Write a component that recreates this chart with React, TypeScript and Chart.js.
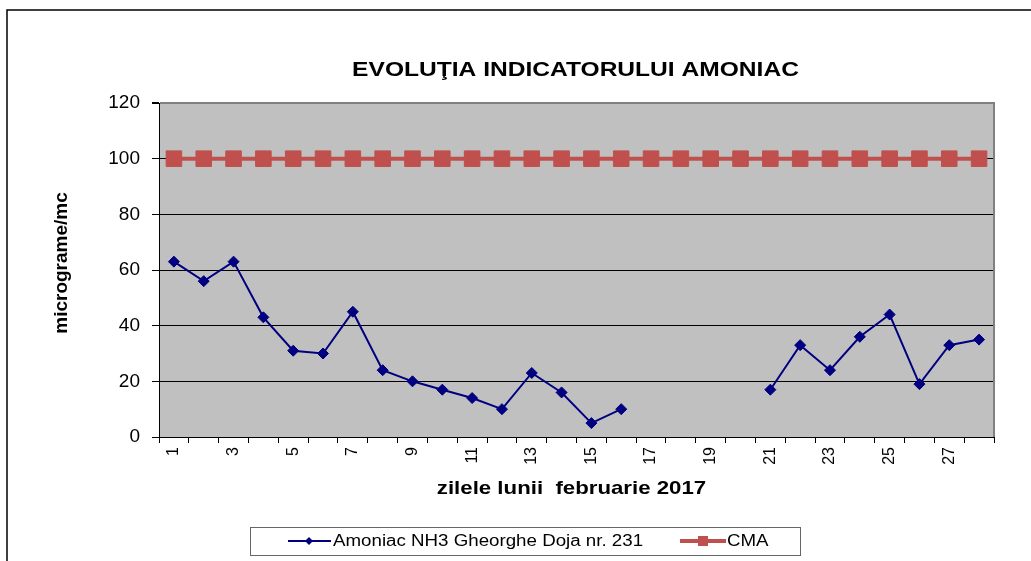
import React, { useEffect, useRef } from "react";
import { Chart, registerables } from "chart.js";

Chart.register(...registerables);

const days: string[] = Array.from({ length: 28 }, (_, i) => String(i + 1));
const amoniac: (number | null)[] = [
  63, 56, 63, 43, 31, 30, 45, 24, 20, 17, 14, 10, 23, 16, 5, 10,
  null, null, null, null,
  17, 33, 24, 36, 44, 19, 33, 35,
];
const cma: number[] = [
  100, 100, 100, 100, 100, 100, 100, 100, 100, 100, 100, 100, 100, 100,
  100, 100, 100, 100, 100, 100, 100, 100, 100, 100, 100, 100, 100, 100,
];
const titleText = "EVOLUŢIA INDICATORULUI AMONIAC";
const xTitle = "zilele lunii  februarie 2017";
const yTitle = "micrograme/mc";
const seriesNames = ["Amoniac NH3 Gheorghe Doja nr. 231", "CMA"];

const BLUE = "#000080";
const RED = "#C0504D";
const FONT = "'Liberation Sans', Arial, sans-serif";
const SX = 1.17;

function stretchText(ctx: any, text: string, x: number, y: number, align: "left" | "center") {
  ctx.save();
  ctx.translate(x, y);
  ctx.scale(SX, 1);
  ctx.textAlign = align;
  ctx.fillText(text, 0, 0);
  ctx.restore();
}

const decor = {
  id: "decor",
  beforeDraw(chart: any) {
    const { ctx, chartArea: a } = chart;
    ctx.save();
    ctx.fillStyle = "#fff";
    ctx.fillRect(0, 0, chart.width, chart.height);
    ctx.fillStyle = "#C0C0C0";
    ctx.fillRect(a.left, a.top, a.right - a.left, a.bottom - a.top);
    ctx.restore();
  },
  beforeDatasetsDraw(chart: any) {
    const { ctx, chartArea: a } = chart;
    ctx.save();
    ctx.strokeStyle = "#808080";
    ctx.lineWidth = 2;
    ctx.beginPath();
    ctx.moveTo(a.right, a.top - 1);
    ctx.lineTo(a.right, a.bottom);
    ctx.stroke();
    ctx.restore();
  },
  afterDraw(chart: any) {
    const { ctx, chartArea: a } = chart;
    ctx.save();
    // outer frame
    ctx.strokeStyle = "#000";
    ctx.lineWidth = 1.5;
    ctx.beginPath();
    ctx.moveTo(chart.width, 10);
    ctx.lineTo(7, 10);
    ctx.lineTo(7, chart.height);
    ctx.stroke();

    const cx = (a.left + a.right) / 2;
    ctx.fillStyle = "#000";
    ctx.textBaseline = "middle";
    ctx.font = `bold 21px ${FONT}`;
    stretchText(ctx, titleText, cx - 1, 70, "center");

    ctx.font = `bold 19px ${FONT}`;
    stretchText(ctx, xTitle, cx - 5, 489, "center");

    ctx.save();
    ctx.translate(62, 263);
    ctx.rotate(-Math.PI / 2);
    ctx.textAlign = "center";
    ctx.fillText(yTitle, 0, 0);
    ctx.restore();

    // legend
    const lx = 250, ly = 527, lw = 550, lh = 28;
    ctx.fillStyle = "#fff";
    ctx.fillRect(lx, ly, lw, lh);
    ctx.strokeStyle = "#666";
    ctx.lineWidth = 1;
    ctx.strokeRect(lx + 0.5, ly + 0.5, lw, lh);
    const my = ly + lh / 2;
    // blue entry
    ctx.strokeStyle = BLUE;
    ctx.lineWidth = 2;
    ctx.beginPath();
    ctx.moveTo(288, my);
    ctx.lineTo(331, my);
    ctx.stroke();
    ctx.fillStyle = BLUE;
    ctx.beginPath();
    ctx.moveTo(309, my - 4);
    ctx.lineTo(313, my);
    ctx.lineTo(309, my + 4);
    ctx.lineTo(305, my);
    ctx.closePath();
    ctx.fill();
    ctx.fillStyle = "#000";
    ctx.font = `16px ${FONT}`;
    stretchText(ctx, seriesNames[0], 333, my + 1, "left");
    // red entry
    ctx.strokeStyle = RED;
    ctx.lineWidth = 4;
    ctx.beginPath();
    ctx.moveTo(680, my);
    ctx.lineTo(726, my);
    ctx.stroke();
    ctx.fillStyle = RED;
    ctx.fillRect(698, my - 5, 10, 10);
    ctx.fillStyle = "#000";
    stretchText(ctx, seriesNames[1], 727, my + 1, "left");
    ctx.restore();
  },
};

export default function App() {
  const ref = useRef<HTMLCanvasElement | null>(null);
  useEffect(() => {
    if (!ref.current) return;
    const chart = new Chart(ref.current, {
      type: "line",
      data: {
        labels: days,
        datasets: [
          {
            label: seriesNames[0],
            data: amoniac,
            borderColor: BLUE,
            backgroundColor: BLUE,
            borderWidth: 2,
            pointStyle: "rectRot",
            pointRadius: 5.5,
            pointBorderWidth: 1,
            pointBackgroundColor: BLUE,
            pointBorderColor: BLUE,
            spanGaps: false,
            tension: 0,
          },
          {
            label: seriesNames[1],
            data: cma,
            borderColor: RED,
            backgroundColor: RED,
            borderWidth: 4,
            pointStyle: "rect",
            pointRadius: 11,
            pointBorderWidth: 1,
            pointBackgroundColor: RED,
            pointBorderColor: RED,
            tension: 0,
          },
        ],
      },
      options: {
        responsive: false,
        animation: false,
        layout: { padding: { top: 103, right: 37, bottom: 0, left: 0 } },
        plugins: {
          legend: { display: false },
          title: { display: false },
          tooltip: { enabled: false },
        },
        scales: {
          x: {
            type: "category",
            offset: true,
            afterFit: (s: any) => {
              s.height = 124;
            },
            grid: {
              offset: true,
              drawOnChartArea: false,
              drawTicks: true,
              tickLength: 6,
              color: "#000",
            },
            border: { color: "#000", width: 1 },
            ticks: {
              autoSkip: false,
              minRotation: 90,
              maxRotation: 90,
              padding: 4,
              color: "#000",
              font: { family: FONT, size: 16 },
              callback: (_v: any, i: number) => (i % 2 === 0 ? days[i] : ""),
            },
          },
          y: {
            min: 0,
            max: 120,
            afterFit: (s: any) => {
              s.width = 159;
            },
            grid: {
              color: (c: any) => (c.tick && c.tick.value === 120 ? "#808080" : "#000"),
              lineWidth: (c: any) => (c.tick && c.tick.value === 120 ? 2 : 1),
              tickColor: "#000",
              tickLength: 7,
            },
            border: { color: "#000", width: 1 },
            ticks: {
              stepSize: 20,
              padding: 12,
              color: "#000",
              font: { family: FONT, size: 19 },
            },
          },
        },
      },
      plugins: [decor],
    } as any);
    return () => chart.destroy();
  }, []);
  return (
    <div style={{ position: "fixed", left: 0, top: 0, width: 1031, height: 561, background: "#fff" }}>
      <canvas ref={ref} width={1031} height={561} style={{ width: 1031, height: 561, display: "block" }} />
    </div>
  );
}
